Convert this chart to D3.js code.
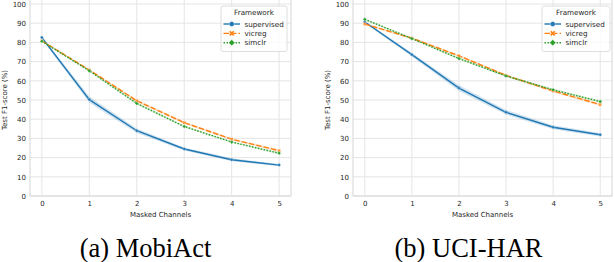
<!DOCTYPE html>
<html>
<head>
<meta charset="utf-8">
<script src="https://cdn.jsdelivr.net/npm/d3@7"></script>
<style>
  body { margin: 0; background: #fff; }
  svg { display: block; }
</style>
</head>
<body>
<svg id="canvas" width="614" height="262"></svg>
<script>
'use strict';

// shared x values and tick labels
var maskedChannels = [0, 1, 2, 3, 4, 5];
var yTicks = [0, 10, 20, 30, 40, 50, 60, 70, 80, 90, 100];
var frameworks = ['supervised', 'vicreg', 'simclr'];

// MobiAct test F1 (%)
var mobiSupervised = [82.5, 50.2, 34.0, 24.5, 18.9, 16.1];
var mobiVicreg     = [80.8, 65.6, 49.6, 38.2, 29.6, 23.6];
var mobiSimclr     = [80.6, 65.2, 48.2, 36.2, 28.1, 22.3];
// half width of the confidence bands
var mobiSupervisedCi = [0.8, 1.6, 1.2, 0.8, 0.8, 0.6];
var mobiVicregCi     = [0.3, 0.4, 0.6, 0.6, 0.5, 0.6];
var mobiSimclrCi     = [0.3, 0.4, 0.5, 0.5, 0.4, 0.5];

// UCI-HAR test F1 (%)
var uciSupervised = [90.6, 73.6, 56.2, 43.6, 35.8, 31.9];
var uciVicreg     = [89.6, 82.2, 73.0, 62.8, 54.7, 47.6];
var uciSimclr     = [92.0, 82.0, 71.6, 62.5, 55.3, 49.2];
var uciSupervisedCi = [0.6, 1.0, 1.5, 1.2, 1.0, 0.9];
var uciVicregCi     = [0.4, 0.5, 0.6, 0.6, 0.6, 0.7];
var uciSimclrCi     = [0.4, 0.4, 0.5, 0.5, 0.5, 0.5];

var captions = ['(a) MobiAct', '(b) UCI-HAR'];

var colors = {supervised: '#1f77b4', vicreg: '#ff7f0e', simclr: '#2ca02c'};
var dashes = {supervised: null, vicreg: '5.5,2', simclr: '1.5,1.5'};

var panels = [
  {left: 30, right: 291, caption: captions[0], capShift: -15,
   series: [mobiSupervised, mobiVicreg, mobiSimclr],
   ci: [mobiSupervisedCi, mobiVicregCi, mobiSimclrCi],
   legend: {x: 221, w: 66}},
  {left: 353, right: 612, caption: captions[1], capShift: -14,
   series: [uciSupervised, uciVicreg, uciSimclr],
   ci: [uciSupervisedCi, uciVicregCi, uciSimclrCi],
   legend: {x: 542, w: 68}}
];

var plotTop = 4, plotBottom = 196;
var svg = d3.select('svg#canvas');

/* marker paths per framework: circle, X, diamond */
function markerPath(name, size){
  if(name === 'supervised') return d3.symbol(d3.symbolCircle, size)();
  if(name === 'vicreg') return d3.symbol(d3.symbolCross, size)();
  return d3.symbol(d3.symbolSquare, size)();
}
function markerRotate(name){
  return name === 'supervised' ? 0 : 45;
}

panels.forEach(function(p){
  let g = svg.append('g');

  let x = d3.scaleLinear().domain([-0.25, 5.25]).range([p.left, p.right]);
  let y = d3.scaleLinear().domain([0, 100]).range([plotBottom, plotTop]);

  /* grid lines */
  g.append('g').selectAll('line').data(yTicks).join('line')
    .attr('x1', p.left).attr('x2', p.right)
    .attr('y1', d => y(d)).attr('y2', d => y(d))
    .attr('stroke', '#e5e5e5').attr('stroke-width', 1);
  g.append('g').selectAll('line').data(maskedChannels).join('line')
    .attr('x1', d => x(d)).attr('x2', d => x(d))
    .attr('y1', -1).attr('y2', plotBottom)
    .attr('stroke', '#e5e5e5').attr('stroke-width', 1);

  /* frame */
  g.append('rect')
    .attr('x', p.left).attr('y', -1)
    .attr('width', p.right - p.left).attr('height', plotBottom + 1)
    .attr('fill', 'none').attr('stroke', '#d6d6d6').attr('stroke-width', 1);

  /* axes, seaborn style: no tick marks, no domain */
  let yAxis = g.append('g')
    .attr('transform', 'translate(' + p.left + ',0)')
    .call(d3.axisLeft(y).tickValues(yTicks).tickSize(0).tickPadding(4));
  let xAxis = g.append('g')
    .attr('transform', 'translate(0,' + plotBottom + ')')
    .call(d3.axisBottom(x).tickValues(maskedChannels).tickFormat(d3.format('d'))
      .tickSize(0).tickPadding(5));
  [xAxis, yAxis].forEach(function(a){
    a.select('.domain').remove();
    a.selectAll('text')
      .attr('font-family', 'DejaVu Sans').attr('font-size', 7)
      .attr('fill', '#262626');
  });

  g.append('text')
    .attr('x', (x(0) + x(5)) / 2).attr('y', 216.5)
    .attr('text-anchor', 'middle')
    .attr('font-family', 'DejaVu Sans').attr('font-size', 7)
    .attr('fill', '#262626')
    .text('Masked Channels');
  g.append('text')
    .attr('transform', 'translate(' + (p.left - 23) + ',' + ((plotTop + plotBottom) / 2) + ') rotate(-90)')
    .attr('text-anchor', 'middle')
    .attr('font-family', 'DejaVu Sans').attr('font-size', 7)
    .attr('fill', '#262626')
    .text('Test F1-score (%)');

  /* bands, lines, markers */
  frameworks.forEach(function(name, i){
    let vals = p.series[i];
    let ci = p.ci[i];
    let pts = maskedChannels.map(function(c, j){ return {x: c, y: vals[j], e: ci[j]}; });

    let area = d3.area()
      .x(d => x(d.x)).y0(d => y(d.y - d.e)).y1(d => y(d.y + d.e));
    g.append('path').datum(pts)
      .attr('d', area)
      .attr('fill', colors[name]).attr('fill-opacity', 0.2);

    let line = d3.line().x(d => x(d.x)).y(d => y(d.y));
    g.append('path').datum(pts)
      .attr('d', line)
      .attr('fill', 'none')
      .attr('stroke', colors[name]).attr('stroke-width', 1.4)
      .attr('stroke-dasharray', dashes[name]);

    g.append('g').selectAll('path').data(pts).join('path')
      .attr('d', markerPath(name, 7))
      .attr('transform', d => 'translate(' + x(d.x) + ',' + y(d.y) + ') rotate(' + markerRotate(name) + ')')
      .attr('fill', colors[name])
      .attr('stroke', '#fff').attr('stroke-width', 0.3);
  });

  /* legend */
  let lg = g.append('g');
  let L = p.legend;
  lg.append('rect')
    .attr('x', L.x).attr('y', 6)
    .attr('width', L.w).attr('height', 45.5)
    .attr('rx', 2)
    .attr('fill', '#fff').attr('fill-opacity', 0.8)
    .attr('stroke', '#d6d6d6').attr('stroke-width', 0.8);
  lg.append('text')
    .attr('x', L.x + L.w / 2).attr('y', 15.2)
    .attr('text-anchor', 'middle')
    .attr('font-family', 'DejaVu Sans').attr('font-size', 7.2)
    .attr('fill', '#262626')
    .text('Framework');
  frameworks.forEach(function(name, i){
    let ly = 24 + i * 9.35;
    let hx0 = L.x + 2.5, hx1 = L.x + 19;
    lg.append('line')
      .attr('x1', hx0).attr('x2', hx1).attr('y1', ly).attr('y2', ly)
      .attr('stroke', colors[name]).attr('stroke-width', 1.4)
      .attr('stroke-dasharray', dashes[name]);
    lg.append('path')
      .attr('d', markerPath(name, 20))
      .attr('transform', 'translate(' + ((hx0 + hx1) / 2) + ',' + ly + ') rotate(' + markerRotate(name) + ')')
      .attr('fill', colors[name])
      .attr('stroke', '#fff').attr('stroke-width', 0.4);
    lg.append('text')
      .attr('x', L.x + 23.5).attr('y', ly + 2.6)
      .attr('font-family', 'DejaVu Sans').attr('font-size', 7.2)
      .attr('fill', '#262626')
      .text(name);
  });

  /* caption */
  svg.append('text')
    .attr('x', (x(0) + x(5)) / 2 + p.capShift).attr('y', 257)
    .attr('text-anchor', 'middle')
    .attr('font-family', "'Liberation Serif', 'Times New Roman', serif").attr('font-size', 26.5)
    .attr('fill', '#000')
    .text(p.caption);
});
</script>
</body>
</html>
